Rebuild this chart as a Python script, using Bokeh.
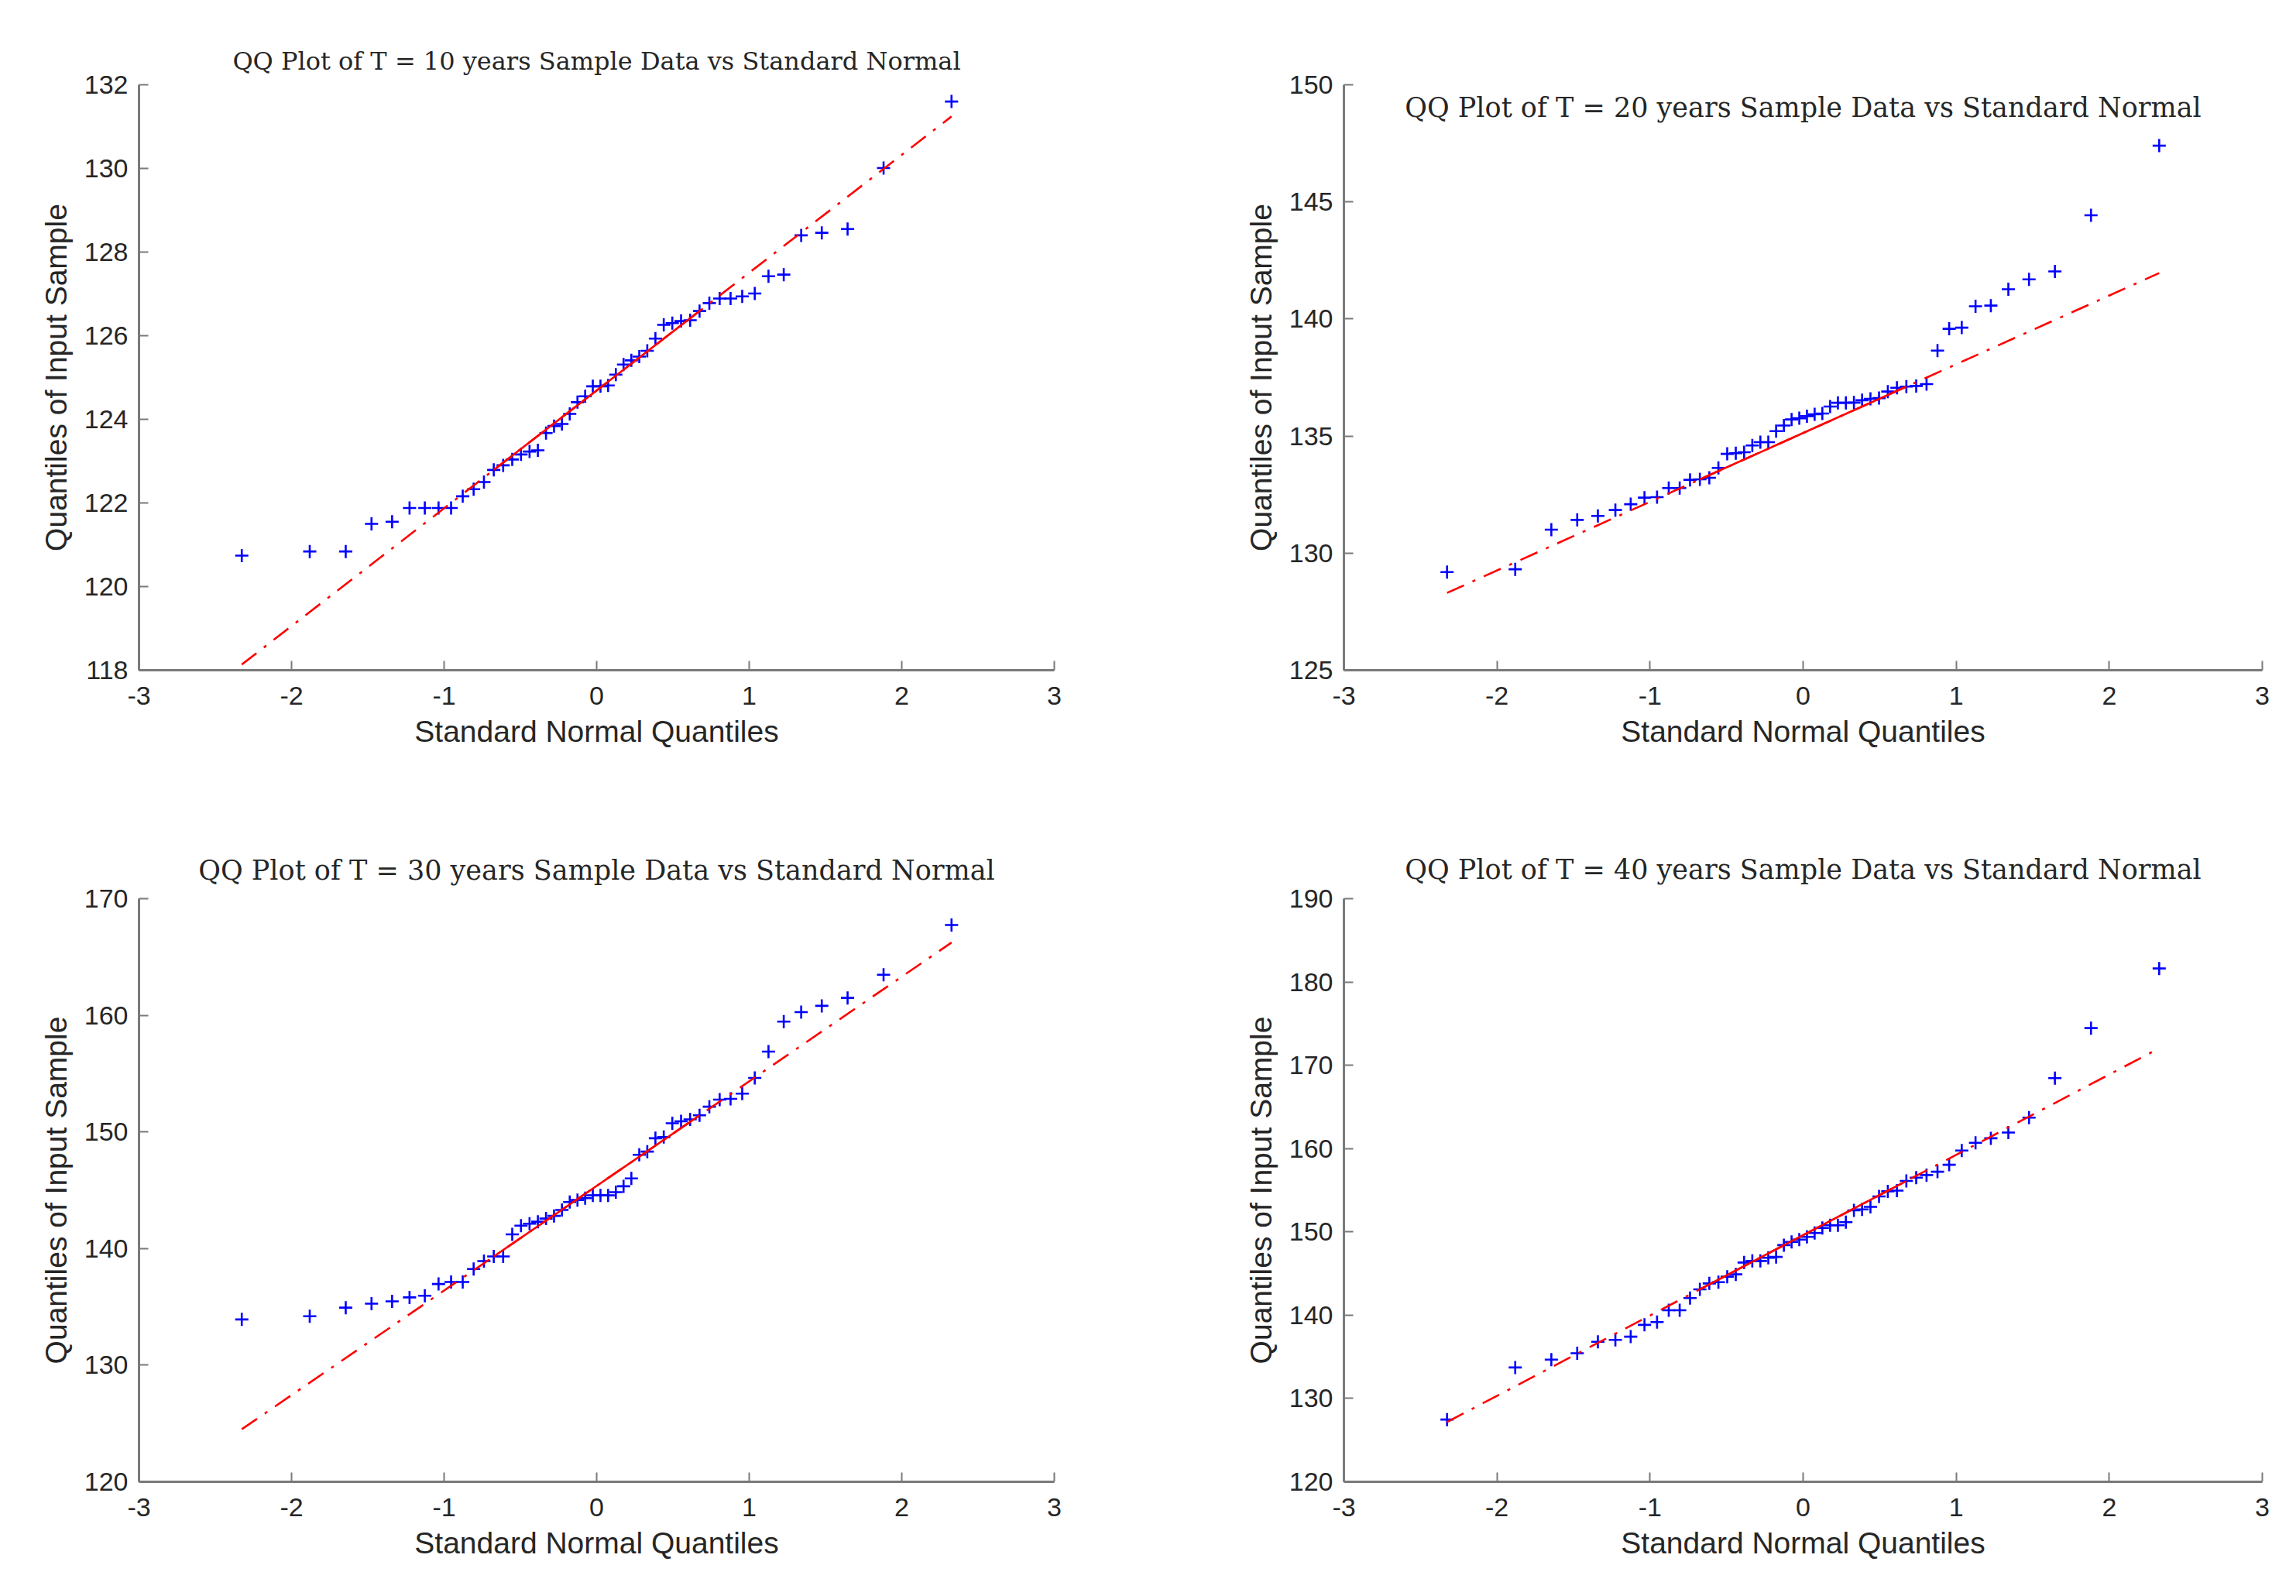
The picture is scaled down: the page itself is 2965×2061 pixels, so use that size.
from bokeh.plotting import figure
from bokeh.layouts import gridplot
from bokeh.models import Range1d, FixedTicker, Label
from bokeh.embed import file_html
from bokeh.resources import INLINE

# Standard normal quantiles for the 50 sample positions (x positions of the markers)
std_normal_quantiles = [
    -2.3263, -1.8808, -1.6449, -1.4758, -1.3408, -1.2265, -1.1264, -1.0364, -0.9542, -0.8779,
    -0.8064, -0.7388, -0.6745, -0.6128, -0.5534, -0.4959, -0.4399, -0.3853, -0.3319, -0.2793,
    -0.2275, -0.1764, -0.1257, -0.0753, -0.0251,
    0.0251, 0.0753, 0.1257, 0.1764, 0.2275, 0.2793, 0.3319, 0.3853, 0.4399, 0.4959,
    0.5534, 0.6128, 0.6745, 0.7388, 0.8064, 0.8779, 0.9542, 1.0364, 1.1264, 1.2265,
    1.3408, 1.4758, 1.6449, 1.8808, 2.3263,
]

# Sorted sample values
sample_T10 = [
    120.74, 120.84, 120.84, 121.50, 121.55, 121.88, 121.88, 121.88, 121.88, 122.16,
    122.33, 122.50, 122.79, 122.90, 123.04, 123.16, 123.23, 123.26, 123.67, 123.84,
    123.89, 124.13, 124.41, 124.55, 124.79, 124.79, 124.81, 125.07, 125.31, 125.41,
    125.50, 125.64, 125.93, 126.26, 126.30, 126.35, 126.37, 126.59, 126.78, 126.89,
    126.89, 126.94, 127.01, 127.42, 127.46, 128.40, 128.46, 128.55, 130.01, 131.60,
]
sample_T20 = [
    129.19, 129.31, 131.00, 131.42, 131.59, 131.84, 132.09, 132.37, 132.39, 132.78,
    132.78, 133.13, 133.15, 133.22, 133.64, 134.24, 134.27, 134.31, 134.60, 134.74,
    134.74, 135.21, 135.45, 135.71, 135.76, 135.85, 135.93, 135.96, 136.26, 136.42,
    136.42, 136.43, 136.53, 136.59, 136.62, 136.90, 137.06, 137.11, 137.14, 137.22,
    138.65, 139.58, 139.63, 140.54, 140.57, 141.27, 141.69, 142.03, 144.43, 147.40,
]
sample_T30 = [
    133.92, 134.19, 134.93, 135.27, 135.47, 135.81, 135.95, 136.96, 137.13, 137.13,
    138.24, 138.92, 139.32, 139.32, 141.22, 141.96, 142.13, 142.30, 142.57, 142.80,
    143.31, 143.99, 144.16, 144.32, 144.56, 144.56, 144.56, 144.83, 145.34, 146.01,
    148.04, 148.31, 149.46, 149.56, 150.74, 150.91, 151.08, 151.42, 152.16, 152.77,
    152.84, 153.28, 154.63, 156.89, 159.46, 160.27, 160.81, 161.49, 163.48, 167.74,
]
sample_T40 = [
    127.47, 133.72, 134.67, 135.43, 136.80, 137.04, 137.42, 138.84, 139.17, 140.59,
    140.59, 142.06, 143.10, 143.81, 143.96, 144.62, 144.90, 146.32, 146.51, 146.51,
    146.89, 146.99, 148.41, 148.79, 149.08, 149.40, 149.86, 150.47, 150.79, 150.79,
    151.16, 152.58, 152.70, 153.00, 154.25, 154.87, 154.95, 156.11, 156.51, 156.82,
    157.22, 158.06, 159.76, 160.69, 161.24, 161.93, 163.72, 168.45, 174.46, 181.62,
]

titles = [
    "QQ Plot of T = 10 years Sample Data vs Standard Normal",
    "QQ Plot of T = 20 years Sample Data vs Standard Normal",
    "QQ Plot of T = 30 years Sample Data vs Standard Normal",
    "QQ Plot of T = 40 years Sample Data vs Standard Normal",
]
x_ticks = [-3, -2, -1, 0, 1, 2, 3]
x_tick_labels = ["-3", "-2", "-1", "0", "1", "2", "3"]
y_limits = [(118, 132), (125, 150), (120, 170), (120, 190)]
y_ticks = [
    [118, 120, 122, 124, 126, 128, 130, 132],
    [125, 130, 135, 140, 145, 150],
    [120, 130, 140, 150, 160, 170],
    [120, 130, 140, 150, 160, 170, 180, 190],
]
x_label = "Standard Normal Quantiles"
y_label = "Quantiles of Input Sample"

AXIS_GREY = "#7a7a7a"
TEXT_DARK = "#262626"
SANS = "Liberation Sans"
SERIF = "DejaVu Serif"


def make_panel(y, ylim, yticks, title, frame, borders, title_mode, title_standoff, title_size):
    fw, fh = frame
    left, right, top, bottom = borders
    p = figure(
        frame_width=fw, frame_height=fh,
        min_border_left=left, min_border_right=right,
        min_border_top=top, min_border_bottom=bottom,
        x_range=Range1d(-3, 3), y_range=Range1d(*ylim),
        output_backend="svg", toolbar_location=None,
        background_fill_color="white", border_fill_color="white",
    )
    p.outline_line_color = None
    p.grid.visible = False

    for ax in (p.xaxis[0], p.yaxis[0]):
        ax.axis_line_color = AXIS_GREY
        ax.axis_line_width = 3
        ax.major_tick_line_color = AXIS_GREY
        ax.major_tick_line_width = 2
        ax.major_tick_in = 12
        ax.major_tick_out = 0
        ax.minor_tick_line_color = None
        ax.major_label_text_font = SANS
        ax.major_label_text_font_size = "34px"
        ax.major_label_text_color = TEXT_DARK
        ax.axis_label_text_font = SANS
        ax.axis_label_text_font_size = "39px"
        ax.axis_label_text_font_style = "normal"
        ax.axis_label_text_color = TEXT_DARK

    p.xaxis.ticker = FixedTicker(ticks=x_ticks)
    p.xaxis.major_label_overrides = {t: s for t, s in zip(x_ticks, x_tick_labels)}
    p.xaxis.major_label_standoff = 21
    p.xaxis.axis_label = x_label
    p.xaxis.axis_label_standoff = 10
    p.yaxis.ticker = FixedTicker(ticks=yticks)
    p.yaxis.major_label_overrides = {t: str(t) for t in yticks}
    p.yaxis.major_label_standoff = 14
    p.yaxis.axis_label = y_label
    p.yaxis.axis_label_standoff = 12

    xs = std_normal_quantiles
    # data markers
    p.scatter(xs, y, marker="cross", size=17, line_color="#0000ff", line_width=2.6)

    # reference line through first and third quartiles (as MATLAB qqplot)
    i1, i3 = 12, 37
    x1, x3 = xs[i1], xs[i3]
    q1, q3 = y[i1], y[i3]
    slope = (q3 - q1) / (x3 - x1)
    xmin, xmax = xs[0], xs[-1]
    p.line([xmin, xmax], [q1 + slope * (xmin - x1), q1 + slope * (xmax - x1)],
           line_color="#ff0000", line_width=2.6, line_dash="24 12 4 12")
    p.line([x1, x3], [q1, q3], line_color="#ff0000", line_width=2.6)

    if title_mode == "inside":
        lab = Label(x=0, y=ylim[1] - (ylim[1] - ylim[0]) * 29.0 / fh, text=title,
                    text_align="center", text_baseline="middle",
                    text_font=SERIF, text_font_size=title_size, text_color=TEXT_DARK)
        p.add_layout(lab)
    else:
        p.title.text = title
        p.title.align = "center"
        p.title.text_font = SERIF
        p.title.text_font_size = title_size
        p.title.text_font_style = "normal"
        p.title.text_color = TEXT_DARK
        p.title.standoff = title_standoff
    return p


p1 = make_panel(sample_T10, y_limits[0], y_ticks[0], titles[0],
                (1182, 756), (179, 120, 109, 157), "above", 23, "32px")
p2 = make_panel(sample_T20, y_limits[1], y_ticks[1], titles[1],
                (1186, 756), (254, 28, 109, 157), "inside", 0, "35px")
p3 = make_panel(sample_T30, y_limits[2], y_ticks[2], titles[2],
                (1182, 753), (179, 120, 138, 124), "above", 33, "35px")
p4 = make_panel(sample_T40, y_limits[3], y_ticks[3], titles[3],
                (1186, 753), (254, 28, 138, 124), "above", 35, "35px")

grid = gridplot([[p1, p2], [p3, p4]], toolbar_location=None)

open("out.html", "w").write(file_html(grid, INLINE))
